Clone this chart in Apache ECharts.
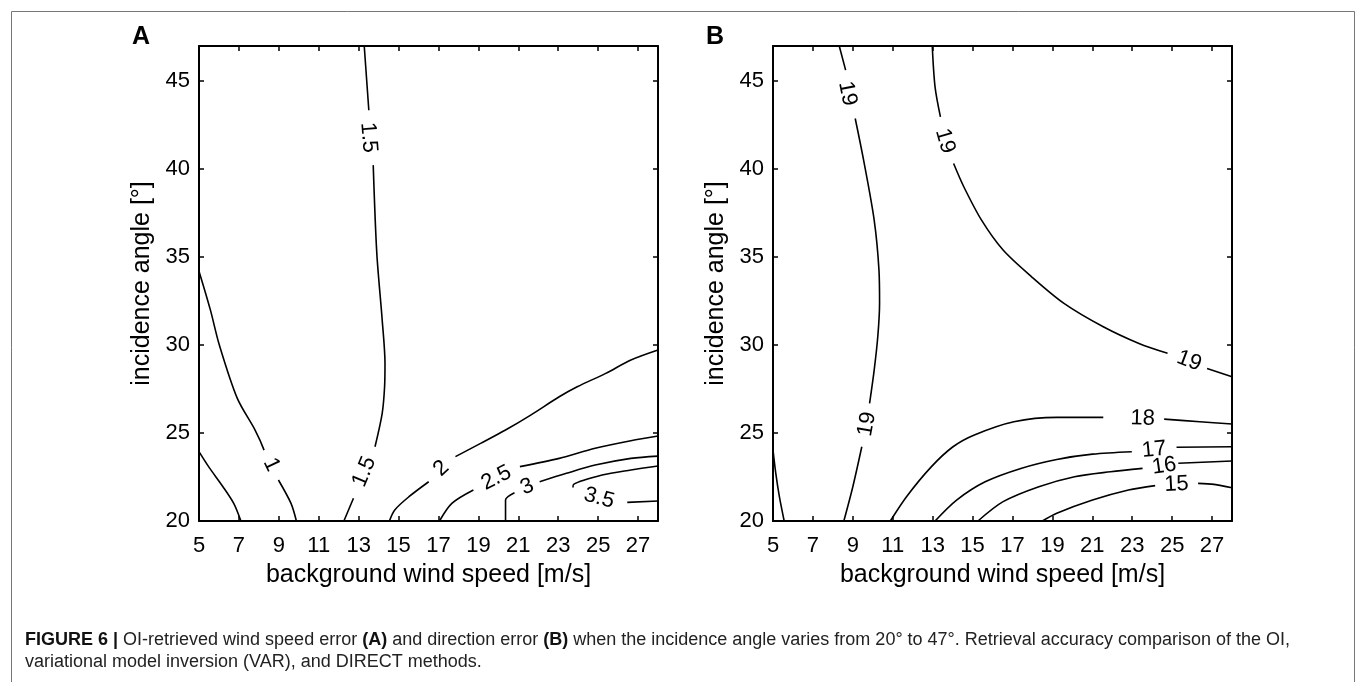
<!DOCTYPE html>
<html><head><meta charset="utf-8">
<script src="https://cdn.jsdelivr.net/npm/echarts@6/dist/echarts.min.js"></script>
<style>html,body{margin:0;padding:0;background:#fff}#c{width:1357px;height:682px}</style>
</head><body><div id="c"></div>
<script>
// ---- tick labels ----
const xTickLabels = [5,7,9,11,13,15,17,19,21,23,25,27];
const yTickLabels = [20,25,30,35,40,45];
const xRange = [5, 28];
const yRange = [20, 47];

// ---- Panel A contours (wind speed error), [speed, angle]; null = label gap ----
const contourA_05 = [[5,23.94],[5.48,23.09],[6.2,21.95],[6.74,21.0],[7.1,20]];
const contourA_1  = [[5,34.2],[5.57,32.0],[6.02,30.0],[6.92,26.97],[7.81,25.17],[8.26,24.03],null,[8.98,22.33],[9.61,21.0],[9.88,20]];
const contourA_15 = [[13.28,47],[13.51,43.35],null,[13.73,40.23],[13.91,35.21],[14.18,31.42],[14.32,28.96],[14.30,27.63],[14.18,26.12],[13.82,24.22],null,[12.74,21.29],[12.26,20]];
const contourA_2  = [[28,29.72],[26.64,29.15],[25.38,28.39],[23.95,27.63],[23.05,27.06],[21.62,26.02],[20.36,25.17],[19.11,24.41],[17.85,23.66],null,[16.51,22.23],[15.52,21.38],[14.81,20.63],[14.54,20]];
const contourA_25 = [[28,24.83],[26.64,24.56],[24.85,24.13],[23.05,23.56],[21.08,23.09],null,[18.75,21.76],[17.67,21.0],[17.05,20]];
const contourA_3  = [[28,23.69],[26.64,23.56],[24.85,23.18],[23.41,22.71],[22.07,22.23],null,[20.81,21.61],[20.36,21.19],[20.36,20]];
const contourA_35 = [[28,23.13],[26.64,22.9],[25.2,22.61],[23.77,22.08],[23.74,21.9],null,[26.46,21.06],[28,21.14]];
const labelsA = [[8.62,23.2,'1'],[13.5,41.8,'1.5'],[13.28,22.8,'1.5'],[17.14,22.99,'2'],[19.9,22.45,'2.5'],[21.44,21.95,'3'],[25.05,21.3,'3.5']];

// ---- Panel B contours (direction error) ----
const contourB_20  = [[5,24.03],[5.14,22.71],[5.32,21.38],[5.56,20]];
const contourB_19a = [[8.32,47],[8.64,45.63],null,[9.12,42.88],[9.54,40.51],[10.07,37.1],[10.31,34.26],[10.34,32.37],[10.25,30.47],[10.07,28.58],[9.84,26.69],null,[9.45,24.22],[9.0,21.95],[8.55,20]];
const contourB_19b = [[12.98,47],[13.12,44.68],[13.39,42.97],null,[14.05,40.32],[14.56,39.0],[15.45,37.1],[16.53,35.4],[17.96,33.88],[19.58,32.37],[21.55,31.04],[23.34,30.09],[24.77,29.53],null,[26.75,28.67],[28,28.2]];
const contourB_18  = [[10.88,20],[11.69,21.38],[12.94,23.09],[14.02,24.22],[15.09,24.89],[17.07,25.64],[19.22,25.89],[21.55,25.89],null,[24.6,25.79],[26.39,25.64],[28,25.51]];
const contourB_17  = [[13.12,20],[14.2,21.19],[15.63,22.23],[17.42,22.99],[19.22,23.5],[21.01,23.8],[22.98,23.94],null,[25.22,24.19],[28,24.22]];
const contourB_16  = [[15.27,20],[16.53,21.1],[18.32,21.95],[20.11,22.52],[21.91,22.8],[23.52,22.99],null,[25.31,23.28],[28,23.41]];
const contourB_15  = [[18.5,20],[19.22,20.44],[21.01,21.19],[22.81,21.76],[24.15,22.01],null,[26.3,22.14],[27.1,22.08],[28,21.89]];
const labelsB = [[8.73,44.3,'19'],[13.62,41.6,'19'],[9.71,25.5,'19'],[25.85,29.1,'19'],[23.52,25.83,'18'],[24.1,24.05,'17'],[24.6,23.12,'16'],[25.22,22.08,'15']];

const panelA = [contourA_05, contourA_1, contourA_15, contourA_2, contourA_25, contourA_3, contourA_35];
const panelB = [contourB_20, contourB_19a, contourB_19b, contourB_18, contourB_17, contourB_16, contourB_15];

const FONT = '"Liberation Sans", Arial, Helvetica, sans-serif';
const chart = echarts.init(document.getElementById('c'));

function axesFor(gi) {
  const common = {gridIndex: gi, type: 'value', splitLine: {show: false},
    axisLine: {show: true, onZero: false, lineStyle: {color: '#000', width: 2}},
    axisTick: {show: true, inside: true, length: 5, lineStyle: {color: '#000', width: 1.5}}};
  const xb = Object.assign({}, common, {position: 'bottom', min: xRange[0], max: xRange[1], interval: 2,
    name: 'background wind speed [m/s]', nameLocation: 'middle', nameGap: 42,
    nameTextStyle: {fontFamily: FONT, fontSize: 25, color: '#000'},
    axisLabel: {show: true, margin: 14, fontFamily: FONT, fontSize: 22, color: '#000', showMaxLabel: false,
      formatter: v => xTickLabels.includes(v) ? String(v) : ''}});
  const xt = Object.assign({}, common, {position: 'top', min: xRange[0], max: xRange[1], interval: 2, axisLabel: {show: false}});
  const yl = Object.assign({}, common, {position: 'left', min: yRange[0], max: yRange[1], interval: 5,
    name: 'incidence angle [°]', nameLocation: 'middle', nameGap: 44,
    nameTextStyle: {fontFamily: FONT, fontSize: 25, color: '#000'},
    axisLabel: {show: true, margin: 9, fontFamily: FONT, fontSize: 22, color: '#000', showMaxLabel: false,
      formatter: v => yTickLabels.includes(v) ? String(v) : ''}});
  const yr = Object.assign({}, common, {position: 'right', min: yRange[0], max: yRange[1], interval: 5, axisLabel: {show: false}});
  return {x: [xb, xt], y: [yl, yr]};
}
const aA = axesFor(0), aB = axesFor(1);

function lineSeries(arrs, idx) {
  return arrs.map(a => ({type: 'line', xAxisIndex: idx * 2, yAxisIndex: idx * 2, data: a,
    showSymbol: false, symbol: 'none', smooth: 0.3, connectNulls: false, silent: true,
    lineStyle: {color: '#000', width: 1.6}, z: 3}));
}

const base = {
  animation: false,
  backgroundColor: '#fff',
  grid: [
    {left: 199, top: 46, width: 459, height: 475, containLabel: false},
    {left: 773, top: 46, width: 459, height: 475, containLabel: false}
  ],
  xAxis: [aA.x[0], aA.x[1], aB.x[0], aB.x[1]],
  yAxis: [aA.y[0], aA.y[1], aB.y[0], aB.y[1]],
  title: {
    left: 20, top: 624,
    text: '{b|FIGURE 6 |} OI-retrieved wind speed error {b|(A)} and direction error {b|(B)} when the incidence angle varies from 20° to 47°. Retrieval accuracy comparison of the OI,\nvariational model inversion (VAR), and DIRECT methods.',
    textStyle: {fontFamily: FONT, fontSize: 18, fontWeight: 'normal', color: '#222', lineHeight: 22,
      rich: {b: {fontFamily: FONT, fontSize: 18, fontWeight: 'bold', color: '#111', lineHeight: 22}}}
  },
  graphic: [
    {type: 'rect', left: 9, top: 9, shape: {width: 1343, height: 700}, style: {fill: 'none', stroke: '#777', lineWidth: 1}, z: -1},
    {type: 'text', x: 141, y: 37, style: {text: 'A', font: 'bold 25px ' + FONT, fill: '#000', textAlign: 'center', textVerticalAlign: 'middle'}},
    {type: 'text', x: 715, y: 37, style: {text: 'B', font: 'bold 25px ' + FONT, fill: '#000', textAlign: 'center', textVerticalAlign: 'middle'}}
  ],
  series: lineSeries(panelA, 0).concat(lineSeries(panelB, 1))
};
chart.setOption(base);

function labelData(labels, contours, idx) {
  const finder = {xAxisIndex: idx * 2, yAxisIndex: idx * 2};
  const gaps = [];
  contours.forEach(c => {
    for (let i = 1; i < c.length - 1; i++) {
      if (c[i] === null && c[i-1] && c[i+1]) {
        const p1 = chart.convertToPixel(finder, c[i-1]);
        const p2 = chart.convertToPixel(finder, c[i+1]);
        gaps.push({p1, p2, m: [(p1[0]+p2[0])/2, (p1[1]+p2[1])/2]});
      }
    }
  });
  return labels.map(l => {
    const p = chart.convertToPixel(finder, [l[0], l[1]]);
    let best = null, bd = Infinity;
    gaps.forEach(g => { const d = Math.hypot(g.m[0]-p[0], g.m[1]-p[1]); if (d < bd) { bd = d; best = g; } });
    let ang = 0;
    if (best) {
      ang = Math.atan2(-(best.p2[1]-best.p1[1]), best.p2[0]-best.p1[0]) * 180 / Math.PI;
      if (ang > 90) ang -= 180;
      if (ang <= -90) ang += 180;
    }
    return {value: [l[0], l[1]], name: l[2], label: {rotate: ang}};
  });
}

function labelSeries(labels, contours, idx) {
  return {type: 'scatter', xAxisIndex: idx * 2, yAxisIndex: idx * 2, silent: true,
    data: labelData(labels, contours, idx), symbolSize: 0, itemStyle: {color: '#000', opacity: 1}, z: 5,
    label: {show: true, position: 'inside', formatter: p => p.name, fontFamily: FONT, fontSize: 22,
      color: '#000', opacity: 1, textBorderWidth: 0, fontWeight: 'normal'}};
}

chart.setOption({series: base.series.concat([labelSeries(labelsA, panelA, 0), labelSeries(labelsB, panelB, 1)])});
</script></body></html>
